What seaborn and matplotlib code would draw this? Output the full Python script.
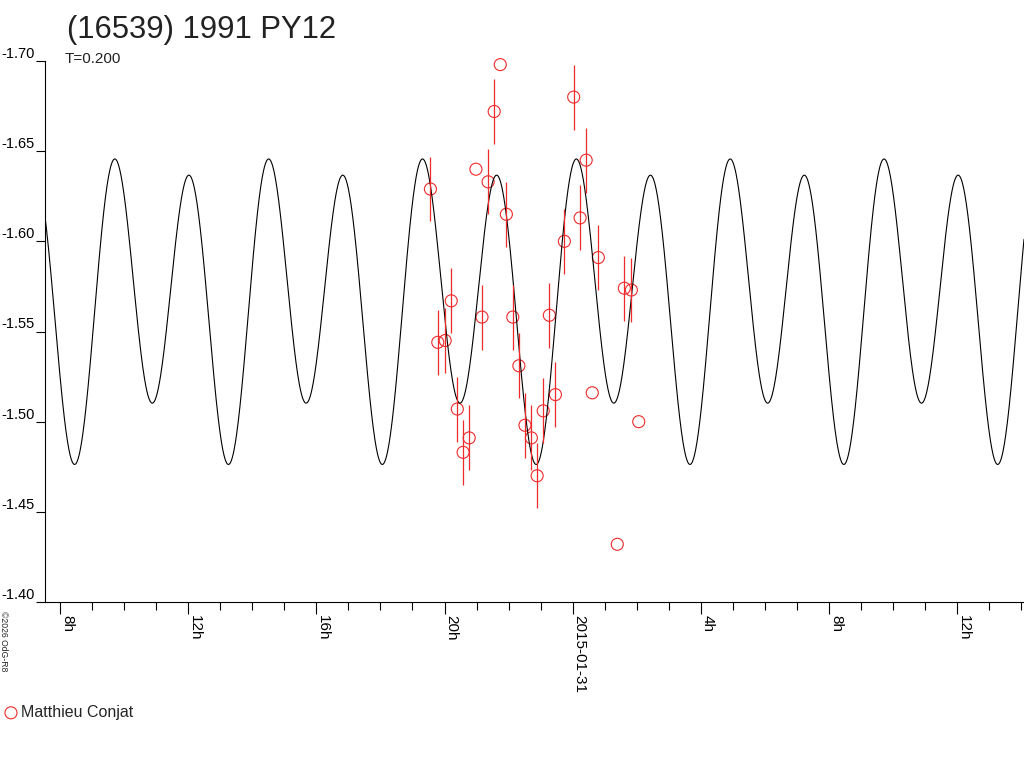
import numpy as np
import pandas as pd
import matplotlib
matplotlib.use("Agg")
import matplotlib.pyplot as plt
import seaborn as sns
from matplotlib.ticker import FixedLocator

# observation times, hours relative to 2015-01-31 00:00 UT
obs_hours = [-4.44, -4.21, -3.98, -3.79, -3.60, -3.42, -3.23, -3.02, -2.83, -2.64,
             -2.45, -2.26, -2.07, -1.87, -1.68, -1.49, -1.29, -1.11, -0.92, -0.73,
             -0.54, -0.26, 0.03, 0.23, 0.42, 0.61, 0.80, 1.39, 1.61, 1.83, 2.06]
obs_mag = [-1.629, -1.544, -1.545, -1.567, -1.507, -1.483, -1.491, -1.640, -1.558, -1.633,
           -1.672, -1.698, -1.615, -1.558, -1.531, -1.498, -1.491, -1.470, -1.506, -1.559,
           -1.515, -1.600, -1.680, -1.613, -1.645, -1.516, -1.591, -1.432, -1.574, -1.573,
           -1.500]
obs_err = [0.018, 0.018, 0.018, 0.018, 0.018, 0.018, 0.018, 0.0, 0.018, 0.018,
           0.018, 0.0, 0.018, 0.018, 0.018, 0.018, 0.018, 0.018, 0.018, 0.018,
           0.018, 0.018, 0.018, 0.018, 0.018, 0.0, 0.018, 0.0, 0.018, 0.018,
           0.0]
observer = "Matthieu Conjat"

# fitted lightcurve (Fourier fit, 2 harmonics)
period_h = 4.80
epoch_h = 0.07
mean_mag = -1.567
cos_terms = [-0.0045, -0.0737]
sin_terms = [-0.017, 0.0]

tick_hours = [-16, -12, -8, -4, 0, 4, 8, 12]
tick_labels = ["8h", "12h", "16h", "20h", "2015-01-31", "4h", "8h", "12h"]
mag_ticks = [-1.70, -1.65, -1.60, -1.55, -1.50, -1.45, -1.40]

x_min, x_max = -16.465, 14.08

sns.set_style("ticks")
plt.rcParams["font.family"] = ["Liberation Sans", "DejaVu Sans"]

red = "#ee2a2a"

t = np.linspace(x_min, x_max, 3000)
phase = 2 * np.pi * (t - epoch_h) / period_h
fit = np.full_like(t, mean_mag)
for k, (a, b) in enumerate(zip(cos_terms, sin_terms), start=1):
    fit += a * np.cos(k * phase) + b * np.sin(k * phase)
fit_df = pd.DataFrame({"hours": t, "mag": fit})
obs_df = pd.DataFrame({"hours": obs_hours, "mag": obs_mag, "err": obs_err,
                       "observer": observer})

fig = plt.figure(figsize=(10.24, 7.68), dpi=100)
ax = fig.add_axes([45 / 1024, 1 - 602 / 768, 979 / 1024, 541 / 768])

sns.lineplot(data=fit_df, x="hours", y="mag", ax=ax, color="black", lw=0.8)

has_err = obs_df[obs_df["err"] > 0]
ax.vlines(has_err["hours"], has_err["mag"] - has_err["err"],
          has_err["mag"] + has_err["err"], color=red, lw=0.9, clip_on=False)
sns.scatterplot(data=obs_df, x="hours", y="mag", ax=ax, marker="o", s=75,
                facecolor="none", edgecolor=red, linewidth=0.8, label=observer,
                clip_on=False)

ax.set_xlim(x_min, x_max)
ax.set_ylim(-1.40, -1.70)
ax.set_xlabel("")
ax.set_ylabel("")

ax.xaxis.set_major_locator(FixedLocator(tick_hours))
ax.xaxis.set_minor_locator(FixedLocator(np.arange(-16, 15, 1)))
ax.set_xticklabels(tick_labels)
ax.yaxis.set_major_locator(FixedLocator(mag_ticks))
ax.set_yticklabels([f"{v:.2f}" for v in mag_ticks])

ax.tick_params(axis="x", which="major", length=8.6, width=0.8, pad=1,
               labelsize=11, colors="black", direction="out")
ax.tick_params(axis="x", which="minor", length=5.8, width=0.8, colors="black",
               direction="out")
ax.tick_params(axis="y", length=6.5, width=0.8, pad=1, labelsize=10.5,
               colors="black", direction="out")
for lab in ax.get_xticklabels():
    lab.set_rotation(270)
    lab.set_ha("left")
    lab.set_va("top")
for lab in ax.get_yticklabels():
    lab.set_va("bottom")

for side in ["top", "right"]:
    ax.spines[side].set_visible(False)
for side in ["left", "bottom"]:
    ax.spines[side].set_color("black")
    ax.spines[side].set_linewidth(0.8)

fig.text(67 / 1024, 1 - 38 / 768, "(16539) 1991 PY12", fontsize=22.3,
         va="baseline", color="#222222")
fig.text(65 / 1024, 1 - 63 / 768, "T=0.200", fontsize=11, va="baseline",
         color="#222222")
fig.text(-1 / 1024, 1 - 611 / 768, "\u00a92026 OdG-R8", fontsize=6.2,
         rotation=270, ha="left", va="top")

leg = ax.legend(loc="upper left", bbox_to_anchor=(3 / 1024, 1 - 705 / 768),
                bbox_transform=fig.transFigure, frameon=False, fontsize=11.5,
                handletextpad=0.15, handlelength=1.0, borderpad=0, borderaxespad=0)

fig.savefig("out.png", dpi=100, facecolor="white")
